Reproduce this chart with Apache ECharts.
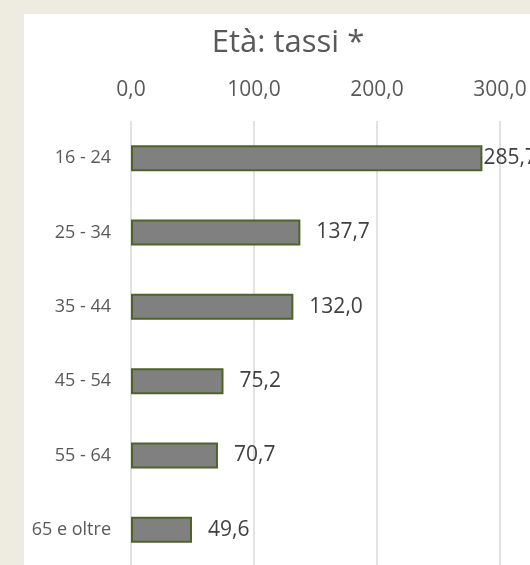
<!DOCTYPE html>
<html>
<head>
<meta charset="utf-8">
<script src="https://cdn.jsdelivr.net/npm/echarts@6/dist/echarts.min.js"></script>
<style>
  html, body { margin: 0; padding: 0; background: #EEECE1; width: 530px; height: 565px; overflow: hidden; }
  #main { position: absolute; left: 24px; top: 14px; width: 640px; height: 551px; background: #ffffff; }
</style>
</head>
<body>
<div id="main"></div>
<script>
// categorie e valori (tassi per età)
const categories = ["16 - 24", "25 - 34", "35 - 44", "45 - 54", "55 - 64", "65 e oltre"];
const values = [285.7, 137.7, 132.0, 75.2, 70.7, 49.6];
const axisTicks = [0, 100, 200, 300, 400];

const fmt = (v) => Number(v).toFixed(1).replace(".", ",");

// il grafico originale è tagliato a destra: il div è più largo della finestra
const myChart = echarts.init(document.getElementById("main"));
const option = {
  animation: false,
  textStyle: { fontFamily: "Open Sans" },
  graphic: [
    {
      type: "text",
      x: 264,
      y: 29,
      style: {
        text: "Età: tassi *",
        fill: "#595959",
        font: '31px "Open Sans"',
        textAlign: "center",
        textVerticalAlign: "middle",
      },
    },
  ],
  grid: {
    left: 107,
    top: 107,
    right: 41,
    bottom: -2,
    outerBoundsMode: "none",
  },
  xAxis: {
    type: "value",
    position: "top",
    min: axisTicks[0],
    max: axisTicks[axisTicks.length - 1],
    interval: 100,
    axisLine: { show: false },
    axisTick: { show: false },
    axisLabel: {
      margin: 20,
      fontSize: 21,
      color: "#595959",
      formatter: fmt,
    },
    splitLine: { lineStyle: { color: "#d9d9d9", width: 1.5 } },
  },
  yAxis: {
    type: "category",
    inverse: true,
    data: categories,
    axisLine: { show: false },
    axisTick: { show: false },
    axisLabel: {
      margin: 20,
      fontSize: 18,
      color: "#595959",
    },
  },
  series: [
    {
      type: "bar",
      barWidth: 26,
      data: values.map((v, i) =>
        i === 0 ? { value: v, label: { distance: 1 } } : v
      ),
      itemStyle: {
        color: "#808080",
        borderColor: "#4F6228",
        borderWidth: 2,
      },
      label: {
        show: true,
        position: "right",
        distance: 16,
        fontSize: 21,
        color: "#404040",
        formatter: (p) => fmt(p.value),
      },
    },
  ],
};
myChart.setOption(option);
</script>
</body>
</html>
